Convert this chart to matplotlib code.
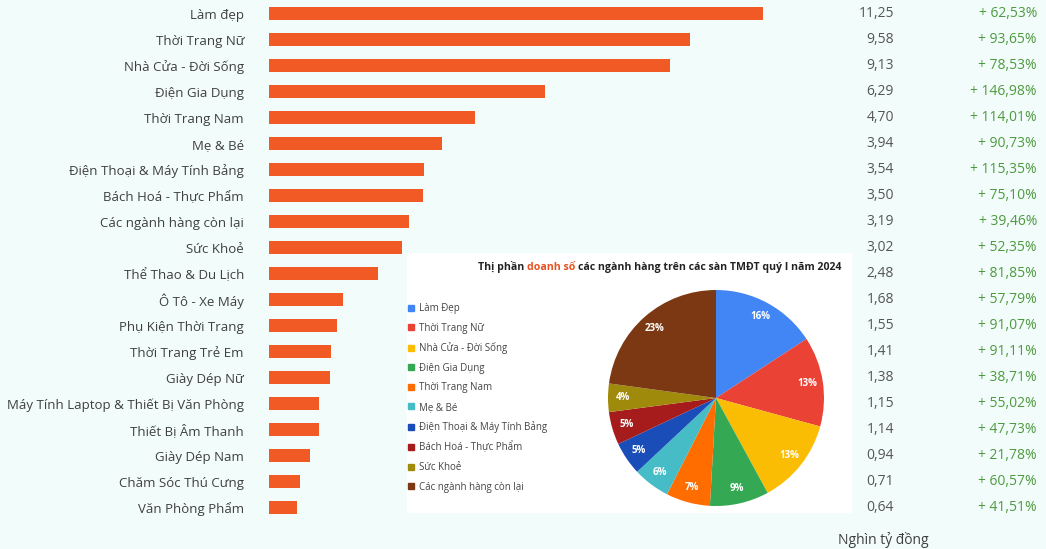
import matplotlib
matplotlib.use("Agg")
import matplotlib.pyplot as plt
from matplotlib.lines import Line2D
from matplotlib.transforms import blended_transform_factory

plt.rcParams['font.family'] = ['Open Sans', 'DejaVu Sans']

# ---------------- data ----------------
categories = ["Làm đẹp", "Thời Trang Nữ", "Nhà Cửa - Đời Sống", "Điện Gia Dụng",
              "Thời Trang Nam", "Mẹ & Bé", "Điện Thoại & Máy Tính Bảng",
              "Bách Hoá - Thực Phẩm", "Các ngành hàng còn lại", "Sức Khoẻ",
              "Thể Thao & Du Lịch", "Ô Tô - Xe Máy", "Phụ Kiện Thời Trang",
              "Thời Trang Trẻ Em", "Giày Dép Nữ",
              "Máy Tính Laptop & Thiết Bị Văn Phòng", "Thiết Bị Âm Thanh",
              "Giày Dép Nam", "Chăm Sóc Thú Cưng", "Văn Phòng Phẩm"]
revenue = [11.25, 9.58, 9.13, 6.29, 4.70, 3.94, 3.54, 3.50, 3.19, 3.02,
           2.48, 1.68, 1.55, 1.41, 1.38, 1.15, 1.14, 0.94, 0.71, 0.64]
growth = [62.53, 93.65, 78.53, 146.98, 114.01, 90.73, 115.35, 75.10, 39.46, 52.35,
          81.85, 57.79, 91.07, 91.11, 38.71, 55.02, 47.73, 21.78, 60.57, 41.51]
unit_label = "Nghìn tỷ đồng"

pie_title_parts = ["Thị phần", "doanh số", "các ngành hàng trên các sàn TMĐT quý I năm 2024"]
pie_labels = ["Làm Đẹp", "Thời Trang Nữ", "Nhà Cửa - Đời Sống", "Điện Gia Dụng",
              "Thời Trang Nam", "Mẹ & Bé", "Điện Thoại & Máy Tính Bảng",
              "Bách Hoá - Thực Phẩm", "Sức Khoẻ", "Các ngành hàng còn lại"]
pie_values = [11.25, 9.58, 9.13, 6.29, 4.70, 3.94, 3.54, 3.50, 3.02, 16.27]
pie_colors = ["#4285F4", "#EA4335", "#FBBC04", "#34A853", "#FF6D01", "#46BDC6",
              "#1A4DB8", "#A61C1C", "#A08A0C", "#7B3813"]

# ---------------- style ----------------
W, H = 1046, 549
bg = "#F2FCFB"
bar_color = "#F15A24"
label_color = "#3F3F3F"
value_color = "#555555"
green = "#4E9A3E"

fig = plt.figure(figsize=(W / 100, H / 100), dpi=100, facecolor=bg)

n = len(categories)
ax = fig.add_axes([269 / W, (H - 521) / H, (763 - 269) / W, 520 / H])
ax.set_facecolor("none")
ax.barh(range(n), revenue, height=0.5, color=bar_color)
ax.set_xlim(0, max(revenue))
ax.set_ylim(n - 0.5, -0.5)
ax.set_yticks(range(n), labels=categories)
ax.tick_params(axis='y', length=0, pad=18, labelsize=9.5, labelcolor=label_color)
ax.set_xticks([])
for s in ax.spines.values():
    s.set_visible(False)

tr = blended_transform_factory(fig.transFigure, ax.transData)
for i, (v, g) in enumerate(zip(revenue, growth)):
    ax.text(894 / W, i, f"{v:.2f}".replace('.', ','), transform=tr, ha='right',
            va='center', fontsize=10, color=value_color)
    ax.text(1037 / W, i, f"+ {g:.2f}%".replace('.', ','), transform=tr, ha='right',
            va='center', fontsize=10, color=green)

fig.text(838 / W, 1 - 540 / H, unit_label, ha='left', va='center', fontsize=10,
         color=label_color)

# ---------------- pie inset ----------------
bg_ax = fig.add_axes([407 / W, (H - 513) / H, (852 - 407) / W, (513 - 253) / H])
bg_ax.set_facecolor("white")
bg_ax.set_xticks([]); bg_ax.set_yticks([])
for s in bg_ax.spines.values():
    s.set_visible(False)

pie_ax = fig.add_axes([608 / W, (H - 506) / H, 216 / W, 216 / H])
wedges, _, autotexts = pie_ax.pie(pie_values, colors=pie_colors, startangle=90,
                                  counterclock=False, autopct='%.0f%%',
                                  pctdistance=0.86,
                                  textprops=dict(color='white', fontsize=7,
                                                 fontweight='bold'))
pie_ax.set_xlim(-1, 1); pie_ax.set_ylim(-1, 1)
pie_ax.set_aspect('equal')
pie_ax.axis('off')

# title with coloured middle part
renderer = fig.canvas.get_renderer()
tp = dict(fontsize=7.6, fontweight='bold', va='baseline')
x = 478 / W
ybase = 1 - 270 / H
probe1 = fig.text(0, 0, "x x", **tp)
probe2 = fig.text(0, 0, "xx", **tp)
space_w = (probe1.get_window_extent(renderer).width - probe2.get_window_extent(renderer).width) / W
probe1.remove(); probe2.remove()
for part, col in zip(pie_title_parts, ["#222222", "#E8501E", "#222222"]):
    t = fig.text(x, ybase, part, color=col, **tp)
    x += t.get_window_extent(renderer).width / W + space_w

handles = [Line2D([], [], marker='s', linestyle='', color=c, markersize=4.5)
           for c in pie_colors]
fig.legend(handles, pie_labels, loc='upper left',
           bbox_to_anchor=(407 / W, 1 - 303 / H), frameon=False, fontsize=7,
           labelcolor="#444444", labelspacing=0.88, handlelength=0.8,
           handletextpad=0.4, borderaxespad=0, borderpad=0)

fig.savefig("out.png", dpi=100, facecolor=bg)
